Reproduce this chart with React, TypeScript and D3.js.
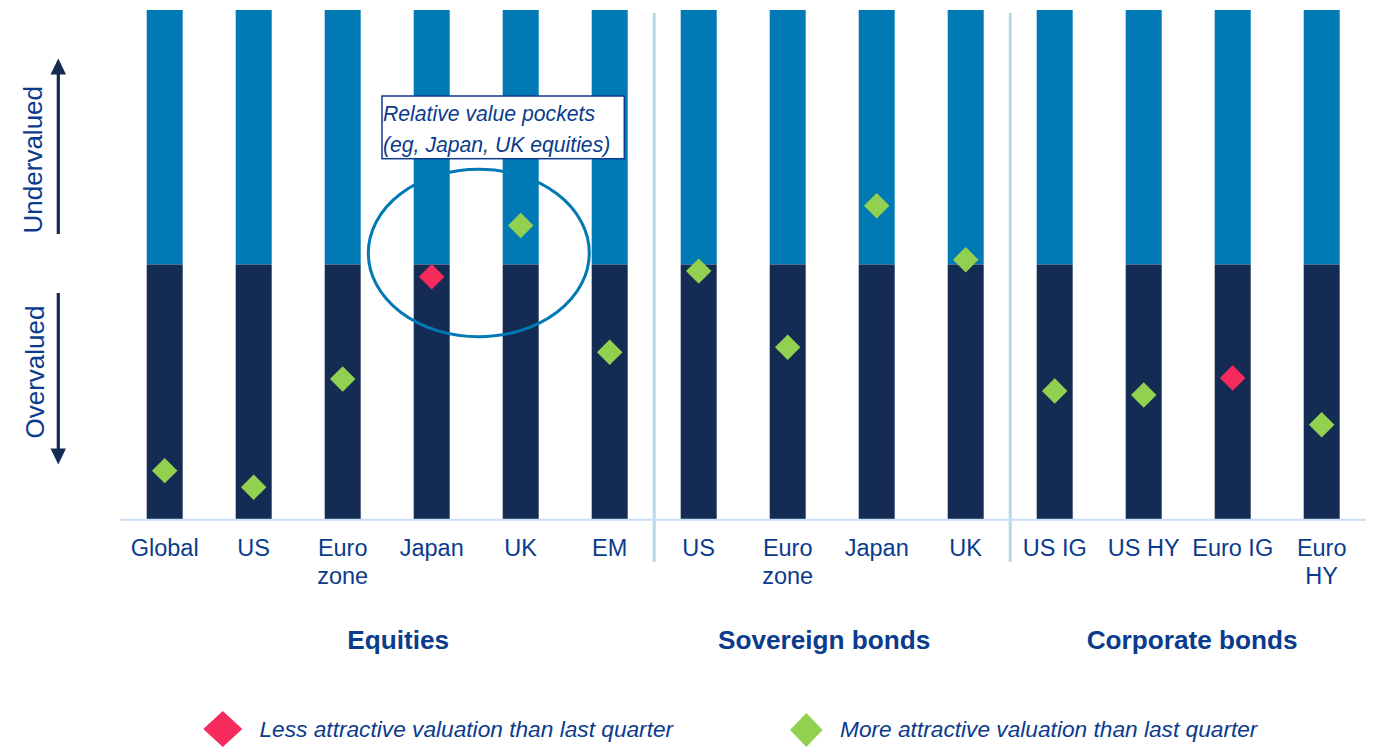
import React from "react";
import * as d3 from "d3";

// ---- Data ----
const categoryIds = ["eq-global", "eq-us", "eq-euro", "eq-japan", "eq-uk", "eq-em", "sov-us", "sov-euro", "sov-japan", "sov-uk", "corp-usig", "corp-ushy", "corp-euroig", "corp-eurohy"];
const categoryLabels = [["Global"], ["US"], ["Euro", "zone"], ["Japan"], ["UK"], ["EM"], ["US"], ["Euro", "zone"], ["Japan"], ["UK"], ["US IG"], ["US HY"], ["Euro IG"], ["Euro", "HY"]];
// valuation score: +1 = most undervalued, -1 = most overvalued
const valuations = [-0.81, -0.875, -0.45, -0.048, 0.153, -0.345, -0.026, -0.325, 0.231, 0.019, -0.497, -0.513, -0.446, -0.63];
const changeVsLastQuarter = ["more", "more", "more", "less", "more", "more", "more", "more", "more", "more", "more", "more", "less", "more"];
const groupNames = ["Equities", "Sovereign bonds", "Corporate bonds"];
const groupSizes = [6, 4, 4];
const groupLabelShift = [11, -8, 4];
const legendItems = [
  { key: "less", label: "Less attractive valuation than last quarter" },
  { key: "more", label: "More attractive valuation than last quarter" },
];
const annotationLines = ["Relative value pockets", "(eg, Japan, UK equities)"];

// ---- Styles ----
const W = 1373;
const H = 747;
const LIGHT = "#0079B4";
const DARK = "#142B54";
const TEXT = "#0B3B8C";
const GREEN = "#92D050";
const RED = "#F72A5C";
const SEP = "#B5DAE6";
const FONT = "'Liberation Sans', Arial, sans-serif";

export default function App() {
  const x = d3.scaleBand<string>().domain(categoryIds).range([120.2, 1366.2]).paddingInner(53 / 89).paddingOuter(53 / 89 / 2);
  const y = d3.scaleLinear().domain([-1, 1]).range([519, 10]);
  const bw = x.bandwidth();
  const cx = (i: number) => (x(categoryIds[i]) as number) + bw / 2;

  const diamond = d3.symbol().type(d3.symbolSquare).size(324)();

  // group boundaries
  const starts: number[] = [];
  let acc = 0;
  groupSizes.forEach((s) => {
    starts.push(acc);
    acc += s;
  });
  const separators = starts.slice(1).map((s) => (cx(s - 1) + cx(s)) / 2);

  const colorFor = (k: string) => (k === "less" ? RED : GREEN);

  return (
    <svg width={W} height={H} style={{ position: "absolute", left: 0, top: 0, background: "#fff" }} fontFamily={FONT}>
      {/* separators */}
      {separators.map((sx, i) => (
        <line key={"sep" + i} x1={sx} x2={sx} y1={13} y2={562} stroke={SEP} strokeWidth={3} />
      ))}
      {/* bars */}
      {categoryIds.map((id, i) => (
        <g key={id}>
          <rect x={x(id)} y={y(1)} width={bw} height={y(0) - y(1)} fill={LIGHT} />
          <rect x={x(id)} y={y(0)} width={bw} height={y(-1) - y(0)} fill={DARK} />
        </g>
      ))}
      {/* baseline */}
      <line x1={120} x2={1366} y1={y(-1) + 0.8} y2={y(-1) + 0.8} stroke="#C8DEF6" strokeWidth={2} />
      {/* markers */}
      {valuations.map((v, i) => (
        <path key={"m" + i} d={diamond as string} transform={`translate(${cx(i)},${y(v)}) rotate(45)`} fill={colorFor(changeVsLastQuarter[i])} />
      ))}
      {/* category labels */}
      {categoryLabels.map((lines, i) => (
        <text key={"l" + i} x={cx(i)} y={556} textAnchor="middle" fontSize={23.5} fill={TEXT}>
          {lines.map((ln, j) => (
            <tspan key={j} x={cx(i)} dy={j === 0 ? 0 : 28}>
              {ln}
            </tspan>
          ))}
        </text>
      ))}
      {/* group labels */}
      {groupNames.map((g, gi) => {
        const c = (cx(starts[gi]) + cx(starts[gi] + groupSizes[gi] - 1)) / 2 + groupLabelShift[gi];
        return (
          <text key={g} x={c} y={649} textAnchor="middle" fontSize={26.2} fontWeight="bold" fill={TEXT}>
            {g}
          </text>
        );
      })}
      {/* y-axis direction labels */}
      <text transform="translate(41.5,159.7) rotate(-90)" textAnchor="middle" fontSize={26} fill={TEXT}>
        Undervalued
      </text>
      <text transform="translate(43.5,372) rotate(-90)" textAnchor="middle" fontSize={26} fill={TEXT}>
        Overvalued
      </text>
      {/* arrows */}
      <line x1={58.3} x2={58.3} y1={234} y2={72} stroke={DARK} strokeWidth={3.2} />
      <path d="M50.5,74.5 L58.3,58.5 L66,74.5 Z" fill={DARK} />
      <line x1={58.3} x2={58.3} y1={293} y2={450} stroke={DARK} strokeWidth={3.2} />
      <path d="M50.5,448.5 L58.3,464.5 L66,448.5 Z" fill={DARK} />
      {/* annotation */}
      <ellipse cx={478.8} cy={253} rx={110.5} ry={83.7} fill="none" stroke="#0079B4" strokeWidth={3} />
      <rect x={382} y={96} width={242.3} height={62.7} fill="#fff" stroke={TEXT} strokeWidth={1.5} />
      {annotationLines.map((t, i) => (
        <text key={"a" + i} x={383} y={120.5 + i * 31} fontSize={21.2} fontStyle="italic" fill={TEXT}>
          {t}
        </text>
      ))}
      {/* legend */}
      <g>
        <path d="M203.3,729 L222.8,711 L242.3,729 L222.8,747 Z" fill={RED} />
        <text x={259.5} y={737} fontSize={22.7} fontStyle="italic" fill={TEXT}>
          {legendItems[0].label}
        </text>
        <path d="M790,730 L806.3,713 L822.6,730 L806.3,747 Z" fill={GREEN} />
        <text x={840} y={737} fontSize={22.7} fontStyle="italic" fill={TEXT}>
          {legendItems[1].label}
        </text>
      </g>
    </svg>
  );
}
